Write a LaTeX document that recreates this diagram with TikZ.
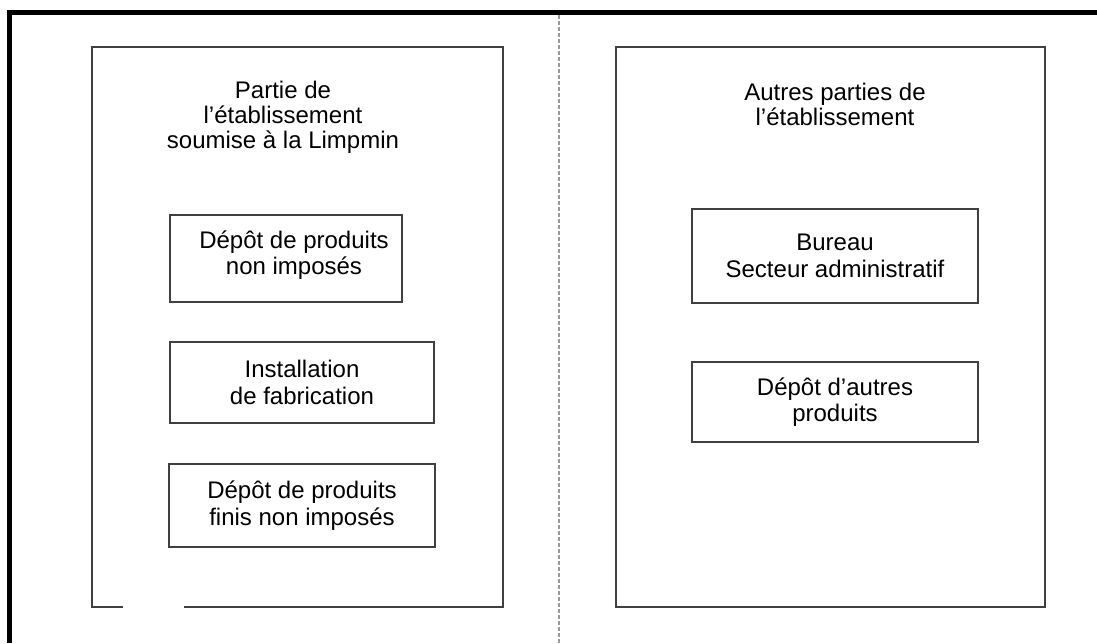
\documentclass[tikz,border=0pt]{standalone}
\usepackage{fontspec}
\setmainfont{Liberation Sans}
\tikzset{
  cadre/.style={draw=black!75, line width=1.4pt},
  boite/.style={cadre, align=center, inner sep=0pt, font=\fontsize{24}{26.5}\selectfont},
  texte/.style={align=center, inner sep=0pt, font=\fontsize{24}{26.5}\selectfont},
  titre/.style={align=center, inner sep=0pt, font=\fontsize{24}{25}\selectfont}
}
\begin{document}
\begin{tikzpicture}[x=1pt,y=-1pt]
      \useasboundingbox (0,0) rectangle (1097,643);
      % cadre exterieur et separation
      \draw[line width=5pt] (9.5,643) -- (9.5,12.5) -- (1097,12.5);
      \draw[black!40, line width=1.2pt, dash pattern=on 4pt off 2pt] (559,15) -- (559,643);
      % partie soumise
      \draw[cadre] (123,607) -- (92,607) -- (92,47) -- (503,47) -- (503,607) -- (184,607);
      \node[titre] (soumise) at (283,117) {Partie de\\l’établissement\\soumise à la Limpmin};
      \node[cadre, minimum width=232, minimum height=87] (depot1) at (286,258.5) {};
      \node[texte] (depot1txt) at (294,255) {Dépôt de produits\\non imposés};
      \node[boite, minimum width=264, minimum height=81] (fabric) at (302,382.5) {Installation\\de fabrication};
      \node[boite, minimum width=266, minimum height=83] (depot2) at (302,505.5) {Dépôt de produits\\finis non imposés};
      % autres parties
      \draw[cadre] (616,47) rectangle (1045,607);
      \node[titre] (autres) at (835,104) {Autres parties de\\l’établissement};
      \node[boite, minimum width=286, minimum height=94] (bureau) at (835,256) {Bureau\\Secteur administratif};
      \node[boite, minimum width=286, minimum height=80] (depot3) at (835,402) {Dépôt d’autres\\produits};
\end{tikzpicture}
\end{document}
